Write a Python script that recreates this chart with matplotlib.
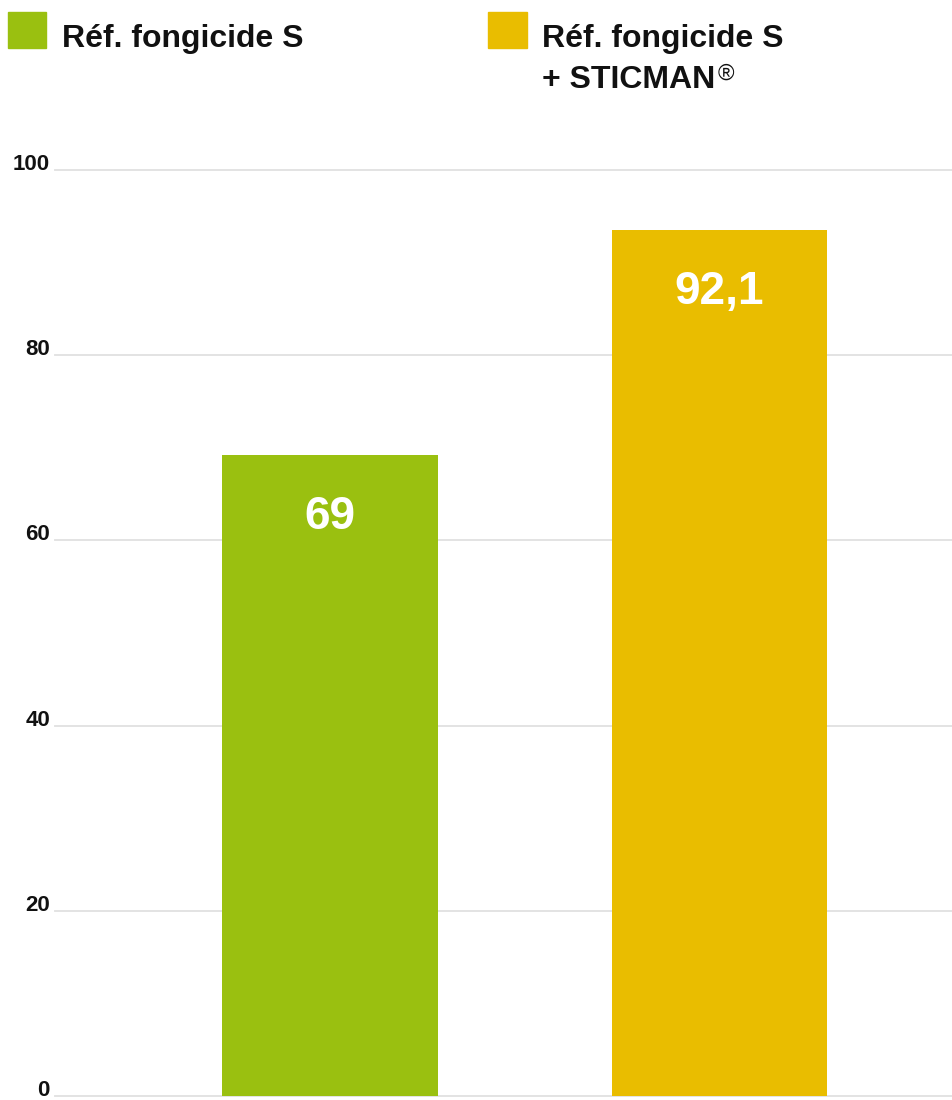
import matplotlib
matplotlib.use("Agg")
import matplotlib.pyplot as plt
from matplotlib.patches import Rectangle

plt.rcParams['font.family'] = ['Liberation Sans', 'DejaVu Sans']

# data
categories = ["Réf. fongicide S", "Réf. fongicide S\n+ STICMAN"]
bar_heights = [69.2, 93.5]
value_labels = ["69", "92,1"]
yticks = [0, 20, 40, 60, 80, 100]
bar_colors = ['#9ac010', '#e9bd00']

W, H = 953, 1100
fig = plt.figure(figsize=(W / 100, H / 100), dpi=100)
# axes: left edge where gridlines start, 0 at y=1096px, 100 at y=170px
ax = fig.add_axes([55 / W, (H - 1096) / H, (W - 55) / W, (1096 - 170) / H])

x = list(range(len(categories)))
ax.bar(x, bar_heights, width=0.553, color=bar_colors, zorder=2)

ax.set_xlim(-0.706, 1.5995)
ax.set_ylim(0, 100)
ax.set_yticks(yticks)
ax.set_yticklabels([str(t) for t in yticks], fontsize=16, fontweight='bold', color='#111111')
for lab in ax.get_yticklabels():
    lab.set_verticalalignment('baseline')
ax.tick_params(axis='y', length=0, pad=3.6)
ax.set_xticks([])
ax.yaxis.grid(True, color='#e0e0e0', linewidth=1.3)
ax.set_axisbelow(True)
for gl in ax.get_ygridlines():
    gl.set_clip_on(False)
for s in ax.spines.values():
    s.set_visible(False)

# value labels inside the bars
for xi, h, lab in zip(x, bar_heights, value_labels):
    ax.annotate(lab, (xi, h), xytext=(0, -74), textcoords='offset pixels',
                ha='center', va='baseline', color='white', fontsize=33, fontweight='bold')

# legend drawn by hand at the top
def fx(px):
    return px / W

def fy(py):
    return 1 - py / H

fig.patches.append(Rectangle((fx(8), fy(48)), 38 / W, 36 / H, transform=fig.transFigure,
                             color=bar_colors[0], figure=fig))
fig.patches.append(Rectangle((fx(488), fy(48)), 39 / W, 36 / H, transform=fig.transFigure,
                             color=bar_colors[1], figure=fig))
fig.text(fx(62), fy(47), categories[0], fontsize=23, fontweight='bold', color='#111111', va='baseline')
line1, line2 = categories[1].split("\n")
fig.text(fx(542), fy(47), line1, fontsize=23, fontweight='bold', color='#111111', va='baseline')
t2 = fig.text(fx(542), fy(88), line2, fontsize=23, fontweight='bold', color='#111111', va='baseline')

fig.canvas.draw()
bb = t2.get_window_extent()
fig.text((bb.x1 + 2) / W, fy(80), "®", fontsize=16, color='#111111', va='baseline')

fig.savefig("out.png", dpi=100, facecolor='white')
